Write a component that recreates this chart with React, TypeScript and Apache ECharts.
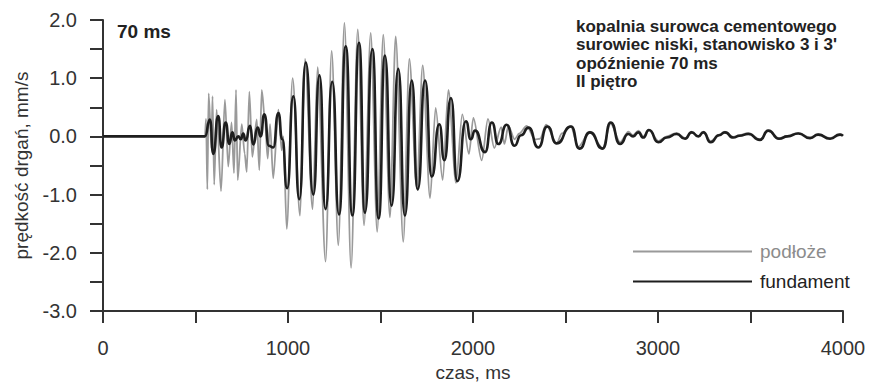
import React, { useEffect, useRef } from "react";
import * as echarts from "echarts";

// czas, ms / prędkość drgań, mm/s (extrema of the waves)
const fundamentTime = [
  0, 551, 578, 596, 623, 641, 663, 683, 699, 713, 731, 745, 758, 771, 795, 812, 836, 852, 872, 897,
  920, 948, 969, 995, 1029, 1061, 1096, 1137, 1170, 1203, 1239, 1276, 1312, 1348, 1384, 1416, 1456,
  1490, 1524, 1560, 1596, 1632, 1669, 1701, 1741, 1777, 1818, 1845, 1881, 1915, 1962, 1988, 2011,
  2065, 2102, 2137, 2182, 2224, 2260, 2300, 2353, 2402, 2452, 2530, 2575, 2632, 2701, 2744, 2795,
  2840, 2865, 2894, 2920, 2951, 3002, 3047, 3101, 3146, 3182, 3218, 3245, 3285, 3330, 3362, 3407,
  3440, 3488, 3551, 3596, 3654, 3700, 3758, 3822, 3866, 3930, 3984, 4000,
];
const fundamentValue = [
  0, 0, 0.29, -0.3, 0.35, -0.19, 0.24, -0.13, 0.07, -0.07, 0.0, -0.05, 0.05, -0.07, 0.18, -0.14, 0.15,
  0.0, 0.38, -0.16, -0.19, 0.4, -0.05, -0.89, 0.69, -1.08, 1.27, -1.0, 1.05, -1.25, 0.94, -1.34, 1.55,
  -1.36, 1.61, -1.31, 1.5, -1.41, 1.39, -1.19, 1.16, -1.36, 0.96, -0.91, 0.96, -0.69, 0.21, -0.41,
  0.66, -0.77, 0.26, -0.05, 0.1, -0.27, 0.24, -0.13, 0.2, -0.16, 0.02, 0.15, -0.19, 0.17, -0.12, 0.17,
  -0.21, 0.07, -0.21, 0.24, -0.13, 0.04, 0.0, 0.07, -0.02, 0.11, -0.1, -0.02, 0.04, -0.04, 0.07, 0.0,
  0.07, -0.1, 0.02, 0.07, -0.02, 0.01, 0.04, -0.06, 0.1, -0.04, 0.0, 0.05, -0.03, 0.03, -0.04, 0.03,
  0.01,
];
const podlozeTime = [
  0, 551, 557, 564, 571, 586, 592, 601, 614, 638, 659, 677, 695, 708, 719, 728, 750, 766, 777, 791,
  807, 831, 845, 858, 875, 890, 903, 920, 948, 966, 975, 993, 1025, 1065, 1092, 1133, 1160, 1203,
  1236, 1272, 1305, 1341, 1377, 1411, 1447, 1482, 1515, 1551, 1582, 1623, 1656, 1696, 1728, 1768,
  1798, 1836, 1867, 1908, 1942, 1978, 2002, 2047, 2081, 2115, 2152, 2170, 2191, 2225, 2250, 2290,
  2335, 2362, 2395, 2452, 2480, 2528, 2568, 2632, 2701, 2744, 2795, 2840, 2865, 2894, 2920, 2951,
  3002, 3047, 3101, 3146, 3182, 3218, 3245, 3285, 3330, 3362, 3407, 3440, 3488, 3551, 3596, 3654,
  3700, 3758, 3822, 3866, 3930, 3984, 4000,
];
const podlozeValue = [
  0, 0, 0.3, -0.91, 0.74, -0.2, 0.69, -0.83, 0.46, -0.94, 0.63, -0.52, 0.24, -0.63, 0.8, -0.75, 0.21,
  -0.3, -0.61, 0.77, -0.35, 0.29, -0.58, 0.8, 0.3, -0.38, 0.21, -0.72, 0.46, -0.24, 0.0, -1.59, 1.0,
  -1.36, 1.33, -1.25, 1.19, -2.15, 1.47, -1.87, 1.95, -2.26, 1.84, -1.53, 1.78, -1.64, 1.75, -1.39,
  1.72, -1.81, 1.33, -0.89, 1.22, -1.06, 0.49, -0.75, 0.8, -0.8, 0.38, -0.3, 0.32, -0.41, 0.3, -0.2,
  0.16, -0.13, 0.18, -0.05, 0.05, 0.18, -0.05, -0.04, 0.2, -0.12, 0.05, 0.18, -0.18, 0.08, -0.2, 0.22,
  -0.1, 0.08, 0.02, 0.1, 0.0, 0.11, -0.08, 0.0, 0.06, -0.03, 0.08, 0.0, 0.08, -0.08, 0.03, 0.08, -0.01,
  0.02, 0.06, -0.05, 0.1, -0.03, 0.01, 0.06, -0.02, 0.04, -0.03, 0.04, 0.02,
];

const xLabelValues = [0, 1000, 2000, 3000, 4000];
const yLabelValues = [-3, -2, -1, 0, 1, 2];

const seriesNames = ["podłoże", "fundament"];
const titleText = "70 ms";
const noteLines = [
  "kopalnia surowca cementowego",
  "surowiec niski, stanowisko 3 i 3'",
  "opóźnienie 70 ms",
  "II piętro",
];

const zip = (t: number[], v: number[]) => t.map((x, i) => [x, v[i]]);

export default function App() {
  const ref = useRef<HTMLDivElement>(null);
  useEffect(() => {
    document.body.style.margin = "0";
    if (!ref.current) return;
    const chart = echarts.init(ref.current, null, { renderer: "svg" });
    const font = "Liberation Sans, Arial, sans-serif";
    const axisColor = "#333";
    chart.setOption({
      animation: false,
      backgroundColor: "#fff",
      textStyle: { fontFamily: font },
      grid: { left: 103, right: 27, top: 20, bottom: 69, containLabel: false },
      xAxis: {
        type: "value",
        min: 0,
        max: 4000,
        interval: 500,
        name: "czas, ms",
        nameLocation: "middle",
        nameGap: 52,
        nameTextStyle: { fontSize: 19, color: axisColor, fontFamily: font },
        axisLine: { onZero: false, lineStyle: { color: axisColor, width: 2 } },
        axisTick: { length: 12, lineStyle: { color: axisColor, width: 2 } },
        axisLabel: {
          margin: 27,
          fontSize: 20,
          color: axisColor,
          fontFamily: font,
          formatter: (v: number) => (xLabelValues.includes(v) ? String(v) : ""),
        },
        splitLine: { show: false },
      },
      yAxis: {
        type: "value",
        min: -3,
        max: 2,
        interval: 0.5,
        name: "prędkość drgań, mm/s",
        nameLocation: "middle",
        nameGap: 72,
        nameTextStyle: { fontSize: 19, color: axisColor, fontFamily: font },
        axisLine: { show: true, onZero: false, lineStyle: { color: axisColor, width: 2 } },
        axisTick: { show: true, length: 13, lineStyle: { color: axisColor, width: 2 } },
        axisLabel: {
          margin: 26,
          fontSize: 20,
          color: axisColor,
          fontFamily: font,
          formatter: (v: number) => (yLabelValues.includes(v) ? v.toFixed(1) : ""),
        },
        splitLine: { show: false },
      },
      legend: {
        orient: "vertical",
        left: 628,
        top: 237,
        itemWidth: 119,
        itemHeight: 2,
        itemGap: 11,
        icon: "rect",
        selectedMode: false,
        data: [
          { name: seriesNames[0], textStyle: { color: "#8c8c8c" } },
          { name: seriesNames[1], textStyle: { color: "#222" } },
        ],
        textStyle: { fontSize: 19, fontFamily: font, padding: [0, 0, 0, 3] },
      },
      graphic: [
        {
          type: "text",
          left: 117,
          top: 22,
          style: { text: titleText, font: `bold 19px ${font}`, fill: "#222" },
        },
        {
          type: "text",
          left: 576,
          top: 17,
          style: {
            text: noteLines.join("\n"),
            font: `bold 17px ${font}`,
            lineHeight: 18.5,
            fill: "#222",
          },
        },
      ],
      series: [
        {
          name: seriesNames[0],
          type: "line",
          data: zip(podlozeTime, podlozeValue),
          symbol: "none",
          smooth: 0.3,
          smoothMonotone: "x",
          lineStyle: { color: "#9a9a9a", width: 1.8 },
          itemStyle: { color: "#9a9a9a" },
          z: 2,
        },
        {
          name: seriesNames[1],
          type: "line",
          data: zip(fundamentTime, fundamentValue),
          symbol: "none",
          smooth: 0.6,
          smoothMonotone: "x",
          lineStyle: { color: "#1e1e1e", width: 2.6 },
          itemStyle: { color: "#1e1e1e" },
          z: 3,
        },
      ],
    });
    return () => chart.dispose();
  }, []);
  return <div ref={ref} style={{ width: 870, height: 387 }} />;
}
